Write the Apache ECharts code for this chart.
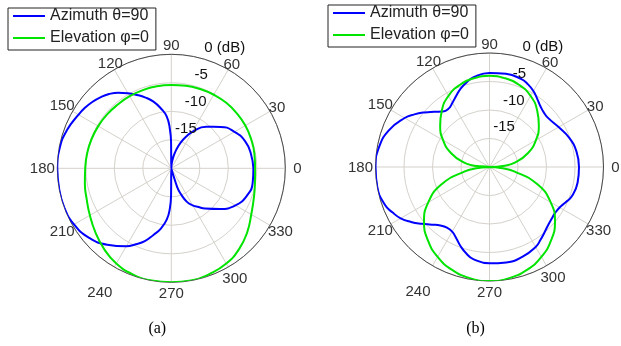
<!DOCTYPE html>
<html><head><meta charset="utf-8">
<script src="https://cdn.jsdelivr.net/npm/echarts/dist/echarts.min.js"></script>
<style>html,body{margin:0;padding:0;background:#fff}#c{width:621px;height:346px}</style>
</head><body><div id="c"></div>
<script>
// ---- tick labels / names ----
const angleTicks = [0, 30, 60, 90, 120, 150, 180, 210, 240, 270, 300, 330];
const angleTickLabels = ['0', '30', '60', '90', '120', '150', '180', '210', '240', '270', '300', '330'];
const radialTicks = [0, -5, -10, -15];
const radialTickLabels = ['0 (dB)', '-5', '-10', '-15'];
const seriesNames = ['Azimuth θ=90', 'Elevation φ=0'];
const panelCaptions = ['(a)', '(b)'];

// ---- panel (a) ----
const aAzAngles = [0,10,20,30,40,50,60,65,70,75,80,85,90,90.5,92,95,100,105,110,115,120,125,130,135,140,145,150,160,170,180,190,200,210,220,230,240,245,250,255,260,265,268,269.5,270,285,287.5,290,295,300,305,310,320,330,340,350];
const aAzGain   = [-5.6,-5.8,-6.2,-7.2,-8.7,-10.5,-12.6,-13.9,-15.2,-16.6,-18.0,-19.2,-20,-15.5,-13.2,-10.9,-9.3,-7.9,-6.8,-5.8,-4.8,-3.8,-3.0,-2.4,-1.9,-1.5,-1.2,-0.5,-0.1,0,0,0,-0.3,-1.1,-2.5,-4.2,-5.3,-6.4,-7.9,-9.2,-11.0,-13.0,-15.5,-20,-19.6,-16.5,-15.3,-13.5,-12.5,-11.7,-10.8,-8.9,-7.0,-5.9,-5.5];
const aElAngles = [0,10,20,30,40,50,60,70,80,90,100,110,120,130,140,150,160,170,180,190,200,210,220,230,240,250,260,270,280,290,300,310,320,330,340,350];
const aElGain   = [-5.3,-5.2,-5.1,-5.0,-5.0,-5.0,-5.1,-5.2,-5.3,-5.4,-5.4,-5.4,-5.4,-5.4,-5.3,-5.2,-5.1,-5.0,-4.9,-4.6,-4.2,-3.5,-2.6,-1.6,-0.7,-0.2,0,0,0,-0.3,-0.7,-1.5,-2.6,-3.8,-4.6,-5.1];

// ---- panel (b) ----
const bAzAngles = [0,10,20,30,40,45,50,55,60,65,70,80,90,100,105,110,115,120,125,130,135,140,145,150,160,170,180,190,200,205,210,215,220,225,230,235,240,245,250,255,260,270,280,290,300,305,310,315,320,325,330,335,340,350];
const bAzGain   = [-4.3,-4.5,-5.1,-6.0,-6.6,-6.5,-6.1,-5.4,-4.6,-4.0,-3.6,-3.4,-3.5,-4.0,-4.6,-5.3,-6.2,-7.0,-7.5,-7.3,-6.3,-5.1,-3.9,-2.8,-1.2,-0.3,0,0,-0.5,-1.2,-2.0,-3.2,-4.5,-5.7,-6.6,-7.0,-6.9,-6.2,-5.2,-4.3,-3.6,-3.1,-3.0,-3.2,-3.8,-4.4,-5.0,-5.5,-5.8,-5.95,-5.8,-5.3,-4.7,-4.3];
const bElAngles = [0,5,10,20,30,40,50,60,70,80,90,100,110,120,130,140,150,160,170,175,180,185,190,200,210,220,230,240,250,260,270,280,290,300,310,320,330,340,350,355];
const bElGain   = [-20,-17.3,-15.4,-12.8,-10.6,-8.7,-7.0,-5.6,-4.7,-4.2,-4.0,-4.2,-4.7,-5.6,-7.0,-8.7,-10.6,-12.8,-15.4,-17.3,-20,-18,-15.6,-11,-7.6,-5.0,-3.2,-1.8,-0.8,-0.2,0,-0.2,-0.8,-1.8,-3.2,-5.0,-7.6,-11,-15.6,-18];

const FONT = '"Liberation Sans", Arial, Helvetica, sans-serif';
const BLUE = '#0000ff', GREEN = '#00e400';
const GRID = '#d5d1cb', OUTER = '#4a4a4a';
const R = 114;
// distance (px) of each angle label's centre from the pole
const angleLabelDist = [126, 122, 121, 123, 122, 126, 129, 126, 143, 125, 127, 126];

function closed(gain, ang) {
  const d = gain.map((g, i) => [g, ang[i]]);
  d.push([gain[0], 360]);
  return d;
}

const chart = echarts.init(document.getElementById('c'), null, {renderer: 'canvas'});

const polars = [
  {center: [171.3, 168.3], radius: R},
  {center: [489.5, 167], radius: R}
];

function angleAxis(i) {
  return {polarIndex: i, type: 'value', min: 0, max: 360, interval: 30, startAngle: 0, clockwise: false,
    axisLine: {show: true, lineStyle: {color: OUTER, width: 1}},
    axisTick: {show: false}, axisLabel: {show: false},
    splitLine: {show: true, lineStyle: {color: GRID, width: 1}}};
}
function radiusAxis(i) {
  return {polarIndex: i, type: 'value', min: -20, max: 0, interval: 5,
    axisLine: {show: false}, axisTick: {show: false}, axisLabel: {show: false},
    splitLine: {show: true, lineStyle: {color: GRID, width: 1}}};
}
function line(name, i, data, color) {
  return {type: 'line', name: name, coordinateSystem: 'polar', polarIndex: i, data: data,
    showSymbol: false, symbol: 'none', smooth: 0.5, clip: false,
    lineStyle: {color: color, width: 2}, itemStyle: {color: color}, emphasis: {disabled: true}};
}
function legend(left, top) {
  return {show: true, orient: 'vertical', left: left, top: top, data: seriesNames,
    icon: 'rect', itemWidth: 32, itemHeight: 2, itemGap: 6, selectedMode: false,
    padding: [0, 7, 4, 5], borderColor: '#222', borderWidth: 1, backgroundColor: '#fff',
    textStyle: {fontFamily: FONT, fontSize: 16, color: '#222'}};
}

chart.setOption({
  animation: false,
  backgroundColor: '#fff',
  polar: polars,
  angleAxis: [angleAxis(0), angleAxis(1)],
  radiusAxis: [radiusAxis(0), radiusAxis(1)],
  legend: [legend(8, 8), legend(328, 5)],
  series: [
    line(seriesNames[0], 0, closed(aAzGain, aAzAngles), BLUE),
    line(seriesNames[1], 0, closed(aElGain, aElAngles), GREEN),
    line(seriesNames[0], 1, closed(bAzGain, bAzAngles), BLUE),
    line(seriesNames[1], 1, closed(bElGain, bElAngles), GREEN)
  ]
});

// text labels positioned through the polar coordinate systems
const texts = [];
[0, 1].forEach(function (pi) {
  angleTicks.forEach(function (t, k) {
    const v = angleLabelDist[k] / R * 20 - 20;
    const p = chart.convertToPixel({polarIndex: pi}, [v, t]);
    texts.push({type: 'text', x: p[0], y: p[1] + 1, z: 10,
      style: {text: angleTickLabels[k], align: 'center', verticalAlign: 'middle',
        font: '15px ' + FONT, fill: '#333'}});
  });
  radialTicks.forEach(function (v, k) {
    const p = chart.convertToPixel({polarIndex: pi}, [v, 70]);
    texts.push({type: 'text', x: p[0] - 6, y: p[1] - 13, z: 10,
      style: {text: radialTickLabels[k], align: 'left', verticalAlign: 'middle',
        font: '15px ' + FONT, fill: '#111'}});
  });
  const c = chart.convertToPixel({polarIndex: pi}, [-20, 270]);
  texts.push({type: 'text', x: c[0] - 14, y: 329, z: 10,
    style: {text: panelCaptions[pi], align: 'center', verticalAlign: 'middle',
      font: '16px "Liberation Serif", "Times New Roman", serif', fill: '#000'}});
});
chart.setOption({graphic: texts});
</script>
</body></html>
